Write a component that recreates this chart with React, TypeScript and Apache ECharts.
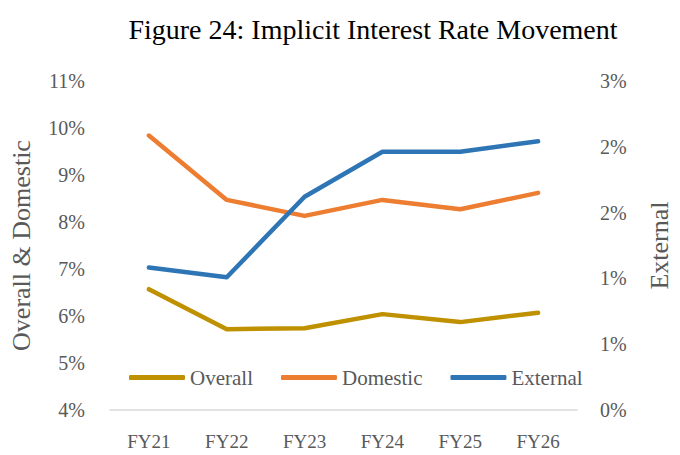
import React, { useEffect, useRef } from "react";
import * as echarts from "echarts";

const categories = ["FY21", "FY22", "FY23", "FY24", "FY25", "FY26"];
const overall = [6.57, 5.72, 5.74, 6.04, 5.87, 6.07];
const domestic = [9.84, 8.47, 8.13, 8.47, 8.27, 8.62];
const external = [1.3, 1.21, 1.945, 2.355, 2.355, 2.45];

const FONT = "'Liberation Serif', 'Times New Roman', serif";
const GREY = "#595959";

export default function App() {
  const ref = useRef<HTMLDivElement>(null);
  useEffect(() => {
    if (!ref.current) return;
    const chart = echarts.init(ref.current, undefined, { renderer: "svg" });
    chart.setOption({
      animation: false,
      backgroundColor: "#ffffff",
      textStyle: { fontFamily: FONT },
      title: {
        text: "Figure 24: Implicit Interest Rate Movement",
        left: 368,
        textAlign: "center",
        top: 10,
        textStyle: { fontFamily: FONT, fontSize: 28, fontWeight: "normal", color: "#000000" },
      },
      grid: { left: 98, right: 82, top: 81, bottom: 45, containLabel: false },
      legend: {
        left: 124,
        top: 362,
        icon: "roundRect",
        itemWidth: 56,
        itemHeight: 5,
        itemGap: 28,
        textStyle: { fontFamily: FONT, fontSize: 21, color: GREY },
        data: ["Overall", "Domestic", "External"],
      },
      xAxis: {
        type: "category",
        data: categories,
        boundaryGap: true,
        axisLine: { lineStyle: { color: "#D9D9D9", width: 1.5 } },
        axisTick: { show: false },
        axisLabel: { fontFamily: FONT, fontSize: 19, color: GREY, margin: 22 },
        splitLine: { show: false },
      },
      yAxis: [
        {
          type: "value",
          min: 4,
          max: 11,
          interval: 1,
          name: "Overall & Domestic",
          nameLocation: "middle",
          nameRotate: 90,
          nameGap: 76,
          nameTextStyle: { fontFamily: FONT, fontSize: 26, color: GREY },
          axisLine: { show: false },
          axisTick: { show: false },
          splitLine: { show: false },
          axisLabel: { fontFamily: FONT, fontSize: 20, color: GREY, margin: 25, formatter: "{value}%" },
        },
        {
          type: "value",
          min: 0,
          max: 3,
          interval: 0.6,
          position: "right",
          name: "External",
          nameLocation: "middle",
          nameRotate: 90,
          nameGap: 69,
          nameTextStyle: { fontFamily: FONT, fontSize: 26, color: GREY },
          axisLine: { show: false },
          axisTick: { show: false },
          splitLine: { show: false },
          axisLabel: {
            fontFamily: FONT,
            fontSize: 20,
            color: GREY,
            margin: 23,
            formatter: (v: number) => Math.round(v) + "%",
          },
        },
      ],
      series: [
        {
          name: "Overall",
          type: "line",
          data: overall,
          yAxisIndex: 0,
          showSymbol: false,
          color: "#BF9000",
          lineStyle: { width: 4.5, cap: "round", join: "round" },
        },
        {
          name: "Domestic",
          type: "line",
          data: domestic,
          yAxisIndex: 0,
          showSymbol: false,
          color: "#ED7D31",
          lineStyle: { width: 4.5, cap: "round", join: "round" },
        },
        {
          name: "External",
          type: "line",
          data: external,
          yAxisIndex: 1,
          showSymbol: false,
          color: "#2E75B6",
          lineStyle: { width: 4.5, cap: "round", join: "round" },
        },
      ],
    });
    return () => chart.dispose();
  }, []);
  return (
    <div
      ref={ref}
      style={{ position: "fixed", left: 0, top: 0, width: 680, height: 455, background: "#fff" }}
    />
  );
}
